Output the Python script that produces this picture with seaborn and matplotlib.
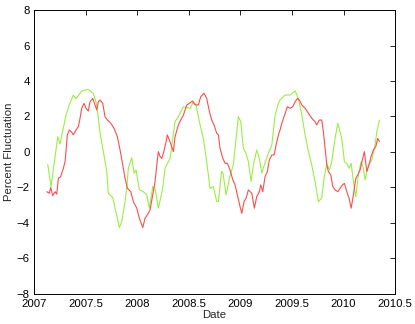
import matplotlib
matplotlib.use("Agg")
import matplotlib.pyplot as plt
import seaborn as sns
import pandas as pd

green_x = [2007.133, 2007.165, 2007.230, 2007.252, 2007.310, 2007.342, 2007.381, 2007.407,
           2007.462, 2007.526, 2007.575, 2007.608, 2007.640, 2007.672, 2007.705, 2007.720,
           2007.763, 2007.785, 2007.827, 2007.850, 2007.882, 2007.899, 2007.914, 2007.947,
           2007.970, 2007.989, 2008.021, 2008.060, 2008.093, 2008.118, 2008.151, 2008.173,
           2008.205, 2008.248, 2008.270, 2008.319, 2008.367, 2008.399, 2008.448, 2008.513,
           2008.545, 2008.571, 2008.603, 2008.641, 2008.674, 2008.706, 2008.738, 2008.771,
           2008.787, 2008.818, 2008.832, 2008.862, 2008.894, 2008.932, 2008.959, 2008.981,
           2009.004, 2009.029, 2009.055, 2009.078, 2009.104, 2009.126, 2009.159, 2009.184,
           2009.208, 2009.233, 2009.272, 2009.305, 2009.337, 2009.369, 2009.385, 2009.434,
           2009.482, 2009.531, 2009.563, 2009.596, 2009.628, 2009.660, 2009.692, 2009.724,
           2009.757, 2009.789, 2009.812, 2009.838, 2009.863, 2009.886, 2009.918, 2009.945,
           2009.983, 2010.009, 2010.032, 2010.054, 2010.074, 2010.096, 2010.119, 2010.144,
           2010.170, 2010.193, 2010.209, 2010.241, 2010.274, 2010.306, 2010.323, 2010.348]
green_y = [-0.70, -1.95, 0.86, 0.45, 2.08, 2.65, 3.20, 3.00,
           3.44, 3.53, 3.30, 2.65, 1.07, 0.02, -1.10, -2.33,
           -2.57, -3.15, -4.26, -3.93, -2.80, -2.03, -0.92, -0.32,
           -1.20, -1.01, -2.14, -2.24, -2.42, -3.17, -1.95, -2.05,
           -3.17, -2.05, -0.92, -0.36, 1.71, 1.99, 2.55, 2.46,
           2.83, 2.65, 1.71, 0.77, -0.55, -2.05, -1.95, -2.80,
           -2.80, -1.10, -1.20, -2.42, -1.48, -0.73, 0.77, 1.99,
           1.71, 0.21, -0.08, -0.55, -1.67, -0.73, 0.11, -0.36,
           -1.20, -0.73, -0.08, 0.39, 2.08, 2.74, 2.93, 3.21,
           3.21, 3.44, 3.02, 2.08, 0.96, 0.02, -0.73, -1.67,
           -2.80, -2.61, -1.48, -0.64, -1.01, -0.55, 0.77, 1.62,
           0.77, -0.55, -0.64, -0.92, -0.64, -1.67, -2.52, -1.30,
           -0.55, -0.92, -1.58, -0.73, -0.45, 0.39, 1.14, 1.80]

red_x = [2007.123, 2007.148, 2007.162, 2007.181, 2007.204, 2007.220, 2007.236, 2007.259,
         2007.284, 2007.301, 2007.323, 2007.342, 2007.366, 2007.381, 2007.407, 2007.430,
         2007.446, 2007.462, 2007.485, 2007.504, 2007.526, 2007.543, 2007.569, 2007.591,
         2007.608, 2007.623, 2007.640, 2007.666, 2007.688, 2007.711, 2007.744, 2007.776,
         2007.808, 2007.834, 2007.860, 2007.882, 2007.905, 2007.938, 2007.963, 2007.996,
         2008.021, 2008.054, 2008.076, 2008.098, 2008.125, 2008.151, 2008.173, 2008.190,
         2008.205, 2008.222, 2008.238, 2008.254, 2008.280, 2008.292, 2008.312, 2008.335,
         2008.351, 2008.367, 2008.399, 2008.422, 2008.448, 2008.481, 2008.506, 2008.535,
         2008.561, 2008.593, 2008.616, 2008.648, 2008.674, 2008.700, 2008.723, 2008.745,
         2008.771, 2008.787, 2008.803, 2008.830, 2008.852, 2008.874, 2008.900, 2008.927,
         2008.949, 2008.971, 2008.997, 2009.014, 2009.036, 2009.055, 2009.078, 2009.111,
         2009.136, 2009.159, 2009.184, 2009.198, 2009.217, 2009.240, 2009.262, 2009.281,
         2009.305, 2009.327, 2009.346, 2009.369, 2009.385, 2009.402, 2009.434, 2009.456,
         2009.482, 2009.508, 2009.531, 2009.553, 2009.572, 2009.596, 2009.628, 2009.660,
         2009.692, 2009.724, 2009.740, 2009.766, 2009.789, 2009.805, 2009.821, 2009.838,
         2009.853, 2009.877, 2009.896, 2009.918, 2009.945, 2009.967, 2009.989, 2010.009,
         2010.032, 2010.054, 2010.074, 2010.096, 2010.119, 2010.138, 2010.161, 2010.183,
         2010.202, 2010.226, 2010.248, 2010.267, 2010.290, 2010.313, 2010.332, 2010.348]
red_y = [-2.24, -2.33, -2.00, -2.46, -2.24, -2.38, -1.48, -1.39,
         -0.92, -0.55, 0.96, 1.24, 1.11, 0.96, 1.24, 1.43,
         1.90, 2.46, 2.74, 2.46, 2.31, 2.83, 3.02, 2.65,
         2.37, 2.83, 2.93, 2.74, 1.99, 1.80, 1.62, 1.33,
         0.86, 0.11, -0.73, -1.48, -2.05, -2.24, -2.80, -3.17,
         -3.74, -4.26, -3.74, -3.55, -3.27, -2.42, -1.67, -0.73,
         0.02, -0.26, -0.36, -0.08, 0.58, 0.96, 0.68, 0.30,
         0.02, 0.86, 1.52, 1.80, 2.08, 2.65, 2.74, 2.87,
         2.65, 2.65, 3.12, 3.31, 3.02, 2.27, 1.80, 1.52,
         1.05, 0.96, 0.20, -0.36, -0.64, -0.64, -1.01, -1.58,
         -1.86, -2.42, -3.08, -3.46, -2.80, -2.61, -2.14, -2.33,
         -3.17, -2.52, -2.24, -1.86, -2.24, -1.39, -1.10, -0.45,
         -0.17, -0.17, 0.39, 0.96, 1.24, 1.62, 2.18, 2.55,
         2.46, 2.55, 2.83, 3.02, 2.93, 2.65, 2.46, 2.18,
         1.90, 1.71, 1.52, 1.80, 1.80, 1.14, 0.21, -0.73,
         -1.10, -1.30, -1.95, -2.14, -2.24, -2.05, -1.86, -1.77,
         -2.24, -2.61, -3.17, -2.42, -1.48, -1.30, -1.01, -0.45,
         0.02, -1.10, -0.73, -0.26, 0.11, 0.30, 0.77, 0.58]

x_ticks = [2007, 2007.5, 2008, 2008.5, 2009, 2009.5, 2010, 2010.5]
x_tick_labels = ["2007", "2007.5", "2008", "2008.5", "2009", "2009.5", "2010", "2010.5"]
y_ticks = [-8, -6, -4, -2, 0, 2, 4, 6, 8]

sns.set_style("white")
plt.rcParams['font.family'] = ['Liberation Sans', 'DejaVu Sans']

fig = plt.figure(figsize=(4.15, 3.24), dpi=100)
ax = fig.add_axes([0.082, 0.093, 0.870, 0.876])

gdf = pd.DataFrame({"Date": green_x, "val": green_y})
rdf = pd.DataFrame({"Date": red_x, "val": red_y})
sns.lineplot(data=gdf, x="Date", y="val", color="#99ee44", linewidth=0.8, ax=ax, estimator=None, sort=False)
sns.lineplot(data=rdf, x="Date", y="val", color="#ff4c4c", linewidth=0.8, ax=ax, estimator=None, sort=False)

ax.set_xlim(2007, 2010.5)
ax.set_ylim(-8, 8)
ax.set_xticks(x_ticks)
ax.set_xticklabels(x_tick_labels)
ax.set_yticks(y_ticks)
ax.tick_params(direction="in", length=3.5, width=0.6, top=True, right=True,
               labelsize=8.2, colors="black")
ax.tick_params(axis="x", pad=3.5)
ax.tick_params(axis="y", pad=3)
for s in ax.spines.values():
    s.set_visible(True)
    s.set_color("black")
    s.set_linewidth(0.7)
ax.set_xlabel("Date", fontsize=8.2, labelpad=1)
ax.set_ylabel("Percent Fluctuation", fontsize=8.2, labelpad=2)

fig.savefig("out.png", dpi=100, facecolor="white")
